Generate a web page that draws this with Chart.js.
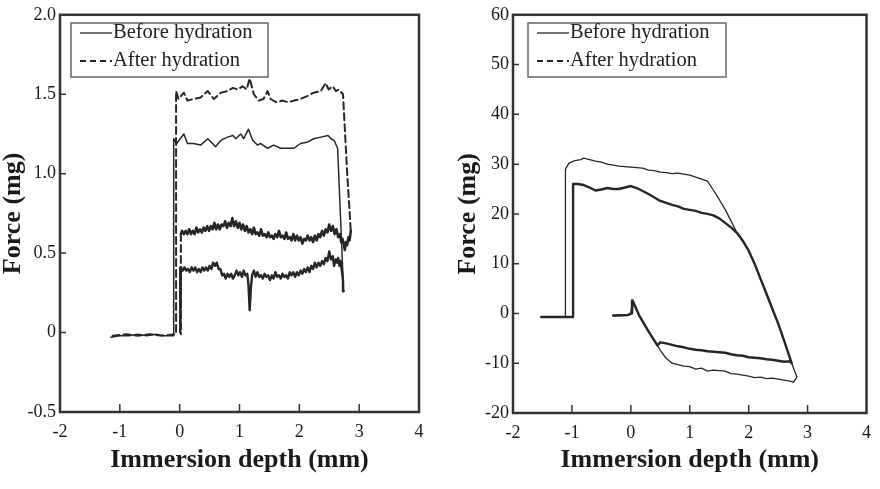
<!DOCTYPE html>
<html>
<head>
<meta charset="utf-8">
<script src="https://cdn.jsdelivr.net/npm/chart.js@4.4.1/dist/chart.umd.min.js"></script>
<style>
html, body { margin: 0; padding: 0; background: #fff; }
#wrap { position: relative; width: 880px; height: 489px; }
canvas { position: absolute; top: 0; }
#chartA { left: 0; }
#chartB { left: 440px; }
</style>
</head>
<body>
<div id="wrap">
  <canvas id="chartA" width="440" height="489"></canvas>
  <canvas id="chartB" width="440" height="489"></canvas>
</div>
<script>
const seriesNames = ['Before hydration', 'After hydration'];
const xTicks = [-2, -1, 0, 1, 2, 3, 4];
const aYTicks = [-0.5, 0, 0.5, 1.0, 1.5, 2.0];
const aYLabels = ['-0.5', '0', '0.5', '1.0', '1.5', '2.0'];
const bYTicks = [-20, -10, 0, 10, 20, 30, 40, 50, 60];
const bYLabels = ['-20', '-10', '0', '10', '20', '30', '40', '50', '60'];

// panel (a) - before hydration, advancing
const aBeforeAdv = [[-1.15,-0.03],[-1.0,-0.02],[-0.85,-0.02],[-0.7,-0.01],[-0.55,-0.02],[-0.4,-0.01],[-0.25,-0.02],[-0.10,-0.02],
  [-0.10,1.22],[-0.05,1.19],[0.07,1.25],[0.13,1.19],[0.23,1.19],[0.35,1.18],[0.47,1.22],[0.55,1.19],[0.60,1.17],[0.69,1.21],
  [0.80,1.23],[0.89,1.24],[0.94,1.22],[1.02,1.25],[1.07,1.22],[1.15,1.28],[1.22,1.21],[1.30,1.18],[1.35,1.19],[1.47,1.16],
  [1.57,1.18],[1.69,1.16],[1.81,1.16],[1.91,1.16],[2.02,1.19],[2.14,1.20],[2.24,1.22],[2.36,1.23],[2.48,1.24],[2.53,1.22],
  [2.58,1.21],[2.64,1.16],[2.74,0.26]];
// panel (a) - before hydration, receding
const aBeforeRec = [[2.74,0.26],[2.73,0.33],[2.71,0.39],[2.69,0.45],[2.67,0.42],[2.65,0.47],[2.63,0.44],[2.61,0.46],[2.58,0.42],
  [2.56,0.48],[2.53,0.46],[2.50,0.51],[2.47,0.45],[2.44,0.47],[2.41,0.43],[2.38,0.45],[2.35,0.42],[2.32,0.44],[2.29,0.41],
  [2.26,0.44],[2.23,0.40],[2.20,0.42],[2.17,0.38],[2.14,0.41],[2.11,0.38],[2.08,0.40],[2.05,0.37],[2.02,0.39],[1.99,0.36],
  [1.96,0.38],[1.93,0.35],[1.90,0.38],[1.87,0.36],[1.84,0.38],[1.81,0.34],[1.78,0.36],[1.75,0.35],[1.72,0.37],[1.69,0.34],
  [1.66,0.36],[1.63,0.35],[1.60,0.38],[1.57,0.34],[1.54,0.36],[1.51,0.33],[1.48,0.36],[1.45,0.35],[1.42,0.37],[1.39,0.34],
  [1.36,0.36],[1.33,0.35],[1.30,0.38],[1.27,0.35],[1.24,0.39],[1.21,0.36],[1.19,0.28],[1.17,0.14],[1.15,0.30],[1.13,0.37],
  [1.10,0.36],[1.07,0.39],[1.04,0.35],[1.01,0.38],[0.98,0.36],[0.95,0.39],[0.92,0.36],[0.89,0.34],[0.86,0.37],[0.83,0.35],
  [0.80,0.37],[0.77,0.34],[0.74,0.37],[0.71,0.36],[0.68,0.40],[0.65,0.40],[0.62,0.44],[0.59,0.42],[0.56,0.44],[0.53,0.40],
  [0.50,0.42],[0.47,0.39],[0.44,0.41],[0.41,0.39],[0.38,0.41],[0.35,0.38],[0.32,0.40],[0.29,0.38],[0.26,0.41],[0.23,0.39],
  [0.20,0.41],[0.17,0.38],[0.14,0.40],[0.11,0.39],[0.08,0.41],[0.05,0.39],[0.02,0.41],[0.01,0.0]];
// panel (a) - after hydration, advancing
const aAfterAdv = [[-1.12,-0.02],[-0.9,-0.01],[-0.7,-0.02],[-0.5,-0.01],[-0.3,-0.02],[-0.06,-0.01],
  [-0.06,1.52],[-0.02,1.47],[0.07,1.51],[0.13,1.46],[0.23,1.47],[0.35,1.48],[0.47,1.52],[0.57,1.47],[0.69,1.51],[0.80,1.52],
  [0.89,1.54],[0.97,1.53],[1.05,1.55],[1.12,1.53],[1.17,1.60],[1.24,1.50],[1.32,1.46],[1.40,1.47],[1.47,1.52],[1.52,1.47],
  [1.61,1.45],[1.72,1.46],[1.81,1.45],[1.91,1.46],[2.02,1.47],[2.14,1.49],[2.24,1.51],[2.36,1.52],[2.44,1.57],[2.49,1.53],
  [2.56,1.55],[2.61,1.52],[2.66,1.53],[2.73,1.50],[2.80,1.00],[2.86,0.64]];
// panel (a) - after hydration, receding
const aAfterRec = [[2.86,0.64],[2.84,0.58],[2.82,0.60],[2.80,0.55],[2.78,0.57],[2.76,0.52],[2.74,0.56],[2.72,0.59],[2.70,0.57],
  [2.68,0.62],[2.65,0.60],[2.62,0.65],[2.59,0.62],[2.56,0.67],[2.53,0.64],[2.50,0.68],[2.47,0.63],[2.44,0.65],[2.41,0.61],
  [2.38,0.64],[2.35,0.60],[2.32,0.62],[2.29,0.58],[2.26,0.61],[2.23,0.57],[2.20,0.60],[2.17,0.58],[2.14,0.61],[2.11,0.58],
  [2.08,0.59],[2.05,0.56],[2.02,0.60],[1.99,0.58],[1.96,0.61],[1.93,0.58],[1.90,0.62],[1.87,0.58],[1.84,0.60],[1.81,0.59],
  [1.78,0.63],[1.75,0.59],[1.72,0.61],[1.69,0.60],[1.66,0.64],[1.63,0.60],[1.60,0.62],[1.57,0.59],[1.54,0.61],[1.51,0.60],
  [1.48,0.63],[1.45,0.60],[1.42,0.62],[1.39,0.61],[1.36,0.65],[1.33,0.61],[1.30,0.63],[1.27,0.62],[1.24,0.66],[1.21,0.62],
  [1.18,0.65],[1.15,0.63],[1.12,0.67],[1.09,0.64],[1.06,0.68],[1.03,0.65],[1.00,0.69],[0.97,0.66],[0.94,0.70],[0.91,0.67],
  [0.88,0.72],[0.85,0.67],[0.82,0.69],[0.79,0.66],[0.76,0.70],[0.73,0.67],[0.70,0.68],[0.67,0.65],[0.64,0.68],[0.61,0.65],
  [0.58,0.69],[0.55,0.65],[0.52,0.67],[0.49,0.64],[0.46,0.67],[0.43,0.64],[0.40,0.66],[0.37,0.63],[0.34,0.65],[0.31,0.63],
  [0.28,0.66],[0.25,0.62],[0.22,0.64],[0.19,0.62],[0.16,0.65],[0.13,0.62],[0.10,0.64],[0.07,0.62],[0.04,0.64],[0.02,0.62]];
const aAfterTail = [[0.02,0.62],[0.02,-0.01]];

// panel (b) - before hydration
const bBefore = [[-1.52,-0.7],[-1.11,-0.7],[-1.11,29.0],[-1.05,30.2],[-0.95,30.7],[-0.85,30.9],[-0.8,31.2],[-0.7,30.9],
  [-0.6,30.6],[-0.5,30.4],[-0.4,30.0],[-0.3,29.8],[-0.2,29.6],[-0.1,29.5],[0.0,29.4],[0.1,29.3],[0.2,29.2],[0.3,28.8],
  [0.4,28.7],[0.5,28.4],[0.6,28.3],[0.7,28.1],[0.8,28.2],[0.9,28.0],[1.0,27.8],[1.1,27.4],[1.2,27.0],[1.3,26.6],
  [1.4,24.8],[1.5,22.9],[1.6,20.9],[1.7,18.6],[1.8,16.2],[1.9,14.6],[2.0,12.6],[2.1,10.0],[2.2,7.0],[2.3,4.0],[2.4,1.0],
  [2.5,-2.0],[2.6,-5.4],[2.73,-10.0],[2.82,-12.8],[2.76,-13.8],[2.7,-13.6],[2.6,-13.4],[2.5,-13.2],[2.4,-13.0],[2.3,-13.1],
  [2.2,-12.8],[2.1,-12.9],[2.0,-12.6],[1.9,-12.4],[1.8,-12.2],[1.7,-12.1],[1.6,-11.6],[1.5,-11.5],[1.4,-11.4],[1.3,-11.6],
  [1.2,-11.0],[1.1,-11.2],[1.0,-10.7],[0.9,-10.6],[0.8,-10.3],[0.7,-10.0],[0.6,-9.0],[0.5,-7.4],[0.45,-6.4],[0.3,-3.5],
  [0.15,-0.6],[0.03,2.4],[0.0,0.2],[-0.05,-0.4],[-0.3,-0.5]];
// panel (b) - after hydration
const bAfter = [[-1.52,-0.7],[-0.98,-0.7],[-0.98,26.0],[-0.9,26.0],[-0.8,25.8],[-0.7,25.3],[-0.6,24.7],[-0.5,24.9],
  [-0.4,25.2],[-0.3,25.0],[-0.2,25.0],[-0.1,25.3],[0.0,25.6],[0.1,25.2],[0.2,24.6],[0.3,24.0],[0.4,23.3],[0.5,22.6],
  [0.6,22.2],[0.7,21.8],[0.8,21.5],[0.9,21.0],[1.0,20.8],[1.1,20.6],[1.2,20.2],[1.3,20.0],[1.4,19.7],[1.5,19.1],
  [1.6,18.2],[1.7,17.3],[1.8,16.2],[1.9,14.6],[2.0,12.6],[2.1,10.0],[2.2,7.0],[2.3,4.0],[2.4,1.0],[2.5,-2.0],[2.6,-5.4],
  [2.73,-10.0],[2.70,-9.6],[2.6,-9.7],[2.5,-9.5],[2.4,-9.3],[2.3,-9.2],[2.2,-9.0],[2.1,-8.9],[2.0,-8.8],[1.9,-8.5],
  [1.8,-8.4],[1.7,-8.2],[1.6,-7.9],[1.5,-7.8],[1.4,-7.7],[1.3,-7.6],[1.2,-7.4],[1.1,-7.3],[1.0,-7.1],[0.9,-6.8],[0.8,-6.6],
  [0.7,-6.3],[0.6,-6.0],[0.5,-5.8],[0.45,-6.4],[0.3,-3.6],[0.15,-0.6],[0.03,2.6],[0.02,0.0],[-0.05,-0.3],[-0.3,-0.4]];

const SERIF = "'Liberation Serif', 'Times New Roman', serif";
const INK = '#262626';
const pts = arr => arr.map(p => ({ x: p[0], y: p[1] }));

function line(data, width, dash) {
  return {
    data: pts(data), showLine: true, pointRadius: 0, borderColor: INK,
    borderWidth: width, borderDash: dash || [], tension: 0,
    borderJoinStyle: 'round', borderCapStyle: 'round'
  };
}

// frame, inward tick marks and boxed legend
const framePlugin = {
  id: 'frame',
  afterDraw(chart, args, opts) {
    const { ctx, chartArea: a, scales } = chart;
    ctx.save();
    ctx.strokeStyle = '#333';
    ctx.lineWidth = 2.5;
    ctx.strokeRect(a.left, a.top, a.right - a.left, a.bottom - a.top);
    ctx.lineWidth = 1.5;
    ctx.beginPath();
    scales.x.ticks.forEach(t => {
      if (t.value <= scales.x.min || t.value >= scales.x.max) return;
      const px = scales.x.getPixelForValue(t.value);
      ctx.moveTo(px, a.bottom); ctx.lineTo(px, a.bottom - 8);
    });
    scales.y.ticks.forEach(t => {
      if (t.value <= scales.y.min || t.value >= scales.y.max) return;
      const py = scales.y.getPixelForValue(t.value);
      ctx.moveTo(a.left, py); ctx.lineTo(a.left + 6, py);
    });
    ctx.stroke();

    const L = opts.legend;
    ctx.strokeStyle = '#666';
    ctx.lineWidth = 1.5;
    ctx.strokeRect(L.x, L.y, L.w, L.h);
    ctx.font = '20.5px ' + SERIF;
    ctx.fillStyle = '#222';
    ctx.textBaseline = 'middle';
    L.items.forEach((it, i) => {
      const y = L.y + 10 + i * 28;
      ctx.strokeStyle = INK;
      ctx.lineWidth = it.dash.length ? 2 : 1.3;
      ctx.setLineDash(it.dash);
      ctx.beginPath();
      ctx.moveTo(L.x + 9, y); ctx.lineTo(L.x + 41, y);
      ctx.stroke();
      ctx.setLineDash([]);
      ctx.fillText(seriesNames[i], L.x + 42, y);
    });
    ctx.restore();
  }
};

function makeChart(id, datasets, cfg) {
  return new Chart(document.getElementById(id).getContext('2d'), {
    type: 'scatter',
    data: { datasets: datasets },
    plugins: [framePlugin],
    options: {
      responsive: false,
      devicePixelRatio: 1,
      animation: false,
      layout: { padding: { top: cfg.top, right: cfg.right, left: 0, bottom: 0 } },
      plugins: {
        legend: { display: false },
        tooltip: { enabled: false },
        frame: { legend: cfg.legend }
      },
      scales: {
        x: {
          type: 'linear', min: -2, max: 4,
          afterBuildTicks: s => { s.ticks = xTicks.map(v => ({ value: v })); },
          afterFit: s => { s.height = cfg.xHeight; },
          grid: { display: false, drawTicks: false },
          border: { display: false },
          ticks: { color: '#1a1a1a', font: { family: SERIF, size: 18 }, padding: 9, maxRotation: 0,
                   callback: v => String(v) },
          title: { display: true, text: 'Immersion depth (mm)', color: '#1a1a1a',
                   font: { family: SERIF, size: 26, weight: 'bold', lineHeight: 1 },
                   padding: { top: 0, bottom: 16 } }
        },
        y: {
          type: 'linear', min: cfg.yTicks[0], max: cfg.yTicks[cfg.yTicks.length - 1],
          afterBuildTicks: s => { s.ticks = cfg.yTicks.map(v => ({ value: v })); },
          afterFit: s => { s.width = cfg.yWidth; },
          grid: { display: false, drawTicks: false },
          border: { display: false },
          ticks: { color: '#1a1a1a', font: { family: SERIF, size: 18 }, padding: 4,
                   callback: (v, i) => cfg.yLabels[i] },
          title: { display: true, text: 'Force (mg)', color: '#1a1a1a',
                   font: { family: SERIF, size: 26, weight: 'bold', lineHeight: 1 },
                   padding: { top: cfg.yTitlePad, bottom: 0 } }
        }
      }
    }
  });
}

makeChart('chartA', [
  line(aBeforeAdv, 1.5),
  line(aBeforeRec, 2.4),
  line(aAfterAdv, 2, [7, 4]),
  line(aAfterRec, 2.6),
  line(aAfterTail, 2, [7, 4])
], {
  top: 14, right: 21, xHeight: 77, yWidth: 60, yTitlePad: 0,
  yTicks: aYTicks, yLabels: aYLabels,
  legend: { x: 71, y: 23, w: 197, h: 54, items: [{ dash: [] }, { dash: [6, 4] }] }
});

makeChart('chartB', [
  line(bBefore, 1.3),
  line(bAfter, 2.4)
], {
  top: 13, right: 11, xHeight: 76, yWidth: 73, yTitlePad: 15,
  yTicks: bYTicks, yLabels: bYLabels,
  legend: { x: 88, y: 23, w: 198, h: 54, items: [{ dash: [] }, { dash: [6, 4] }] }
});
</script>
</body>
</html>
